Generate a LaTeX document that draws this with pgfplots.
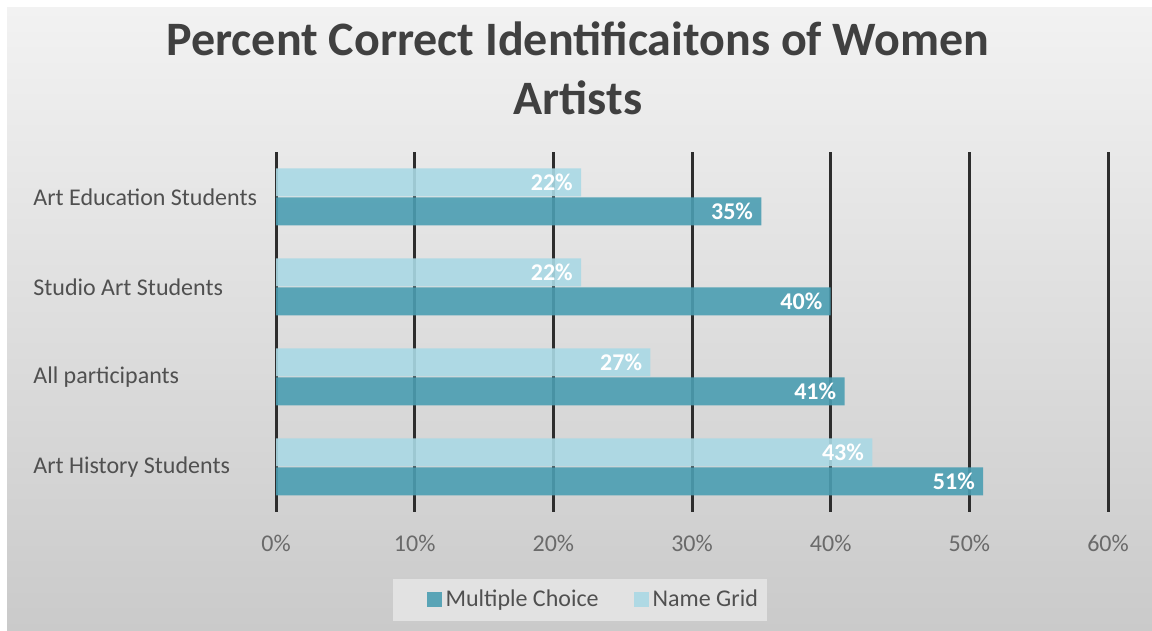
\documentclass[border=0pt]{standalone}
\usepackage{fontspec}
\setmainfont{Carlito}
\usepackage{pgfplots}
\pgfplotsset{compat=1.18}
\definecolor{mc}{RGB}{75,158,178}
\definecolor{ng}{RGB}{170,217,229}
\definecolor{gridc}{RGB}{45,45,45}
\definecolor{bgtop}{RGB}{242,242,242}
\definecolor{bgbot}{RGB}{202,202,202}
\definecolor{titlec}{RGB}{64,64,64}
\definecolor{labc}{RGB}{80,80,80}
\definecolor{legbg}{RGB}{226,226,226}
\begin{document}
\begin{tikzpicture}
\fill[white] (0pt,0pt) rectangle (576pt,315.5pt);
\shade[top color=bgtop, bottom color=bgbot] (3.5pt,0pt) rectangle (576pt,311.5pt);
\begin{axis}[
  at={(138pt,59.5pt)}, anchor=south west,
  scale only axis, width=416pt, height=180pt,
  xbar, bar width=14pt,
  xmin=0, xmax=60, ymin=-0.5, ymax=3.5,
  xtick={0,10,...,60},
  xticklabel={\pgfmathprintnumber{\tick}\%},
  /pgf/number format/assume math mode=true,
  ytick={0,1,2,3},
  yticklabels={Art History Students, All participants, Studio Art Students, Art Education Students},
  axis line style={draw=none},
  xmajorgrids, ymajorgrids=false,
  grid style={gridc, line width=1.5pt},
  major tick length=0pt,
  tick label style={font=\fontsize{12}{14}\selectfont},
  xticklabel style={text=labc!85!white, yshift=-8pt},
  yticklabel style={anchor=west, xshift=-121.5pt, inner sep=0pt, text=labc},
  title={Percent Correct Identificaitons of Women\\Artists},
  title style={align=center, font=\fontsize{24}{29.5}\selectfont\bfseries, text=titlec,
    at={(axis description cs:0.363,1)}, anchor=south, yshift=9pt},
  legend columns=2,
  legend style={at={(axis description cs:0.365,-0.244)}, anchor=center, draw=none,
    fill=legbg, font=\fontsize{12}{14}\selectfont, text=labc, inner xsep=2.5pt, inner ysep=3.5pt,
    /tikz/every even column/.append style={column sep=1pt}},
  legend image code/.code={\path (0pt,0pt); \fill[#1] (14.5pt,-3.75pt) rectangle (22pt,3.75pt);},
  nodes near coords={\pgfmathprintnumber{\pgfplotspointmeta}\%},
  nodes near coords style={anchor=east, xshift=-3pt, inner sep=1pt, text=white,
    font=\fontsize{12}{14}\selectfont\bfseries},
]
\addplot[draw=none, fill=mc, fill opacity=0.9, text opacity=1, bar shift=-7.25pt]
  coordinates {(51,0) (41,1) (40,2) (35,3)};
\addlegendentry{Multiple Choice}
\addplot[draw=none, fill=ng, fill opacity=0.9, text opacity=1, bar shift=7.25pt]
  coordinates {(43,0) (27,1) (22,2) (22,3)};
\addlegendentry{Name Grid}
\end{axis}
\end{tikzpicture}
\end{document}
